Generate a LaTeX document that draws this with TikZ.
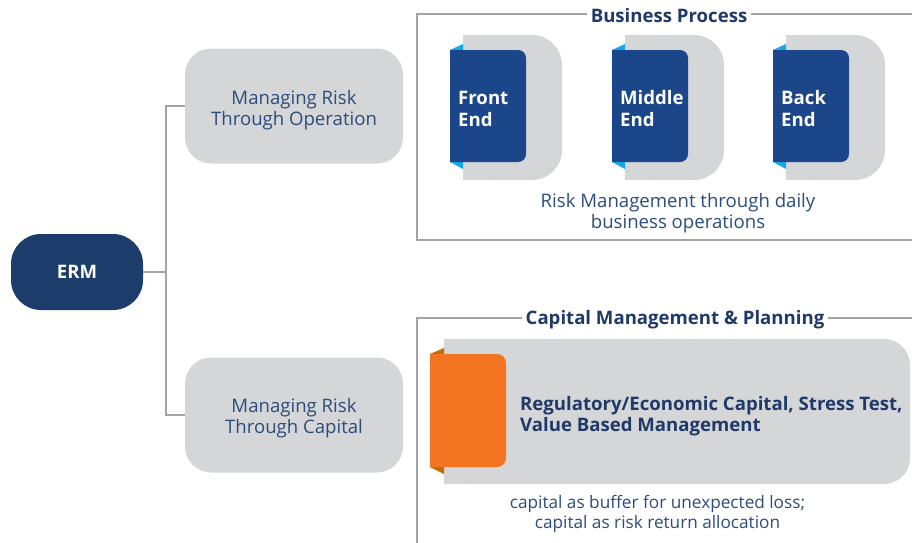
\documentclass[tikz,border=0pt]{standalone}
\usepackage{fontspec}
\setmainfont{Open Sans}
\definecolor{ermblue}{HTML}{1C3C6B}
\definecolor{endblue}{HTML}{1B4689}
\definecolor{cyanx}{HTML}{13A9E9}
\definecolor{greyf}{HTML}{D5D6D8}
\definecolor{linegrey}{HTML}{A3A3A3}
\definecolor{txtblue}{HTML}{2C4C7C}
\definecolor{ttlblue}{HTML}{1F3A68}
\definecolor{orangex}{HTML}{F47521}
\definecolor{dorange}{HTML}{C8690C}
\tikzset{
  mgr/.style={fill=greyf, rounded corners=26pt, minimum width=218pt, minimum height=115pt, inner sep=0pt},
  mgrtxt/.style={align=center, text=txtblue, font=\fontsize{18.6}{21.5}\selectfont, inner sep=0pt},
  frame/.style={draw=linegrey, line width=2pt},
  ttl/.style={fill=white, text=ttlblue, font=\fontsize{18.6}{21}\bfseries\selectfont, inner sep=4pt},
  endtxt/.style={text=white, font=\fontsize{18.6}{22}\bfseries\selectfont, align=left, anchor=west, inner sep=0pt},
  plain/.style={text=txtblue, font=\fontsize{18.6}{21.5}\selectfont, align=center, inner sep=0pt},
  small/.style={text=txtblue, font=\fontsize{17.2}{20}\selectfont, align=center, inner sep=0pt},
  conn/.style={draw=linegrey, line width=2pt}
}
\newcommand{\mycardx}[3]{%
  \fill[greyf, rounded corners=30pt] (#1+13,35) rectangle (#1+112,180);
  \fill[greyf] (#1+13,35) rectangle (#1+50,180);
  \fill[cyanx] (#1,50) -- (#1+13,44) -- (#1+13,50) -- cycle;
  \fill[cyanx] (#1,162) -- (#1+13,162) -- (#1+13,169) -- cycle;
  \fill[endblue, rounded corners=8pt] (#1,50) rectangle (#1+76,162);
  \fill[endblue] (#1,50) rectangle (#1+30,162);
  \node[endtxt] (#2) at (#1+8,109) {#3};
}
\begin{document}
\begin{tikzpicture}[x=1pt,y=-1pt]
\useasboundingbox (0,0) rectangle (912,542);
\begin{scope}
\clip (0,0) rectangle (912,542);
% frames
\draw[frame] (417,14) rectangle (930,240);
\draw[frame] (417,318) rectangle (930,560);
\node[ttl] (bp) at (669,16) {Business Process};
\node[ttl] (cm) at (675,319.5) {Capital Management \& Planning};
% end cards
\mycardx{450}{fe}{Front\\End}
\mycardx{612}{me}{Middle\\End}
\mycardx{773}{be}{Back\\End}
\node[plain] (rmt) at (678,213) {Risk Management through daily\\business operations};
% capital card
\fill[greyf, rounded corners=26pt] (444,339) rectangle (910,484);
\fill[greyf] (444,339) rectangle (500,484);
\fill[dorange] (430,354) -- (444,348) -- (444,354) -- cycle;
\fill[dorange] (430,467) -- (444,467) -- (444,474) -- cycle;
\fill[orangex, rounded corners=9pt] (430,354) rectangle (506,467);
\fill[orangex] (430,354) rectangle (470,467);
\node[anchor=west, text=ttlblue, font=\fontsize{18.6}{21.5}\bfseries\selectfont, align=left, inner sep=0pt] (reg) at (520,416) {Regulatory/Economic Capital, Stress Test,\\Value Based Management};
\node[small] (buf) at (657.5,514) {capital as buffer for unexpected loss;\\capital as risk return allocation};
% left tree
\node[fill=ermblue, rounded corners=30pt, minimum width=132pt, minimum height=76pt, text=white, font=\fontsize{18.6}{21}\bfseries\selectfont, inner sep=0pt] (erm) at (77,272) {ERM};
\node[mgr] (op) at (294,106) {};
\node[mgrtxt] (opt) at (294,110) {Managing Risk\\Through Operation};
\node[mgr] (cap) at (294,415) {};
\node[mgrtxt] (capt) at (294,418) {Managing Risk\\Through Capital};
\coordinate (junc) at (166,272);
\draw[conn] (erm.east) -- (junc);
\draw[conn] (junc) |- (op.west);
\draw[conn] (junc) |- (cap.west);
\end{scope}
\end{tikzpicture}
\end{document}
